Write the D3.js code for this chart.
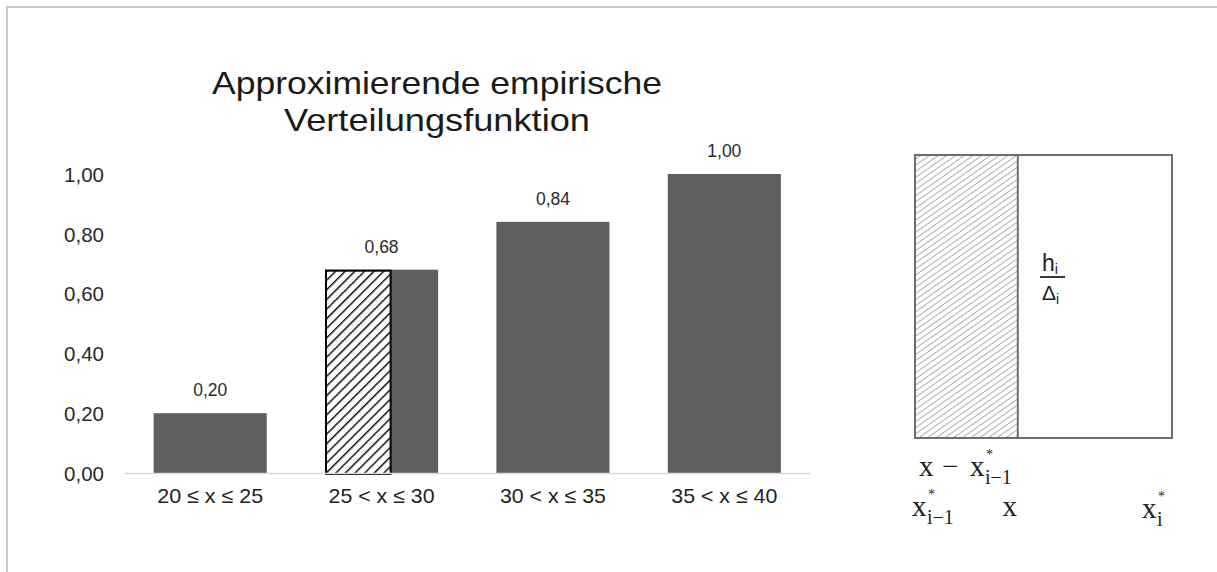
<!DOCTYPE html>
<html><head><meta charset="utf-8">
<script src="https://cdn.jsdelivr.net/npm/d3@7/dist/d3.min.js"></script>
<style>html,body{margin:0;padding:0;background:#fff;}svg{display:block;}</style>
</head><body>
<svg id="c" width="1217" height="572"></svg>
<script>
const categories = ["20 ≤ x ≤ 25", "25 < x ≤ 30", "30 < x ≤ 35", "35 < x ≤ 40"];
const values = [0.20, 0.68, 0.84, 1.00];
const valueLabels = ["0,20", "0,68", "0,84", "1,00"];
const yTicks = [0, 0.2, 0.4, 0.6, 0.8, 1.0];
const yTickLabels = ["0,00", "0,20", "0,40", "0,60", "0,80", "1,00"];
const titleLines = ["Approximierende empirische", "Verteilungsfunktion"];
// hatched share of the second class: x = 27.9 within 25..30
const hatchClass = 1;
const hatchInterval = [25, 30];
const hatchX = 27.9;
// schematic on the right: class [x*_{i-1}, x*_i] with x inside
const diagInterval = [0, 1];
const diagX = 0.4;

const svg = d3.select("#c");
const FONT = "'Liberation Sans', Arial, sans-serif";
const SERIF = "'Liberation Serif', 'DejaVu Serif', serif";

// outer frame
svg.append("path").attr("d", "M7,580 L7,7 L1230,7")
  .attr("fill", "none").attr("stroke", "#c8c8c8").attr("stroke-width", 2);

const defs = svg.append("defs");
const p1 = defs.append("pattern").attr("id", "hatchBold").attr("patternUnits", "userSpaceOnUse")
  .attr("width", 6.8).attr("height", 6.8).attr("patternTransform", "rotate(45)");
p1.append("rect").attr("width", 6.8).attr("height", 6.8).attr("fill", "#fff");
p1.append("line").attr("x1", 0).attr("y1", 0).attr("x2", 0).attr("y2", 6.8)
  .attr("stroke", "#000").attr("stroke-width", 2.8);
const p2 = defs.append("pattern").attr("id", "hatchThin").attr("patternUnits", "userSpaceOnUse")
  .attr("width", 5).attr("height", 5).attr("patternTransform", "rotate(55)");
p2.append("rect").attr("width", 5).attr("height", 5).attr("fill", "#fff");
p2.append("line").attr("x1", 0).attr("y1", 0).attr("x2", 0).attr("y2", 5)
  .attr("stroke", "#6a6a6a").attr("stroke-width", 1.1);

// scales
const x = d3.scaleBand().domain(categories).range([124.5, 810]).paddingInner(0.34).paddingOuter(0.17);
const y = d3.scaleLinear().domain([0, 1]).range([473, 174]);

// title
const titleG = svg.append("g").attr("font-family", FONT).attr("fill", "#1a1a1a");
titleG.selectAll("text").data(titleLines).join("text")
  .attr("x", 437).attr("y", (d, i) => 94 + i * 37)
  .attr("text-anchor", "middle").attr("font-size", 30.5)
  .attr("textLength", (d, i) => i === 0 ? 450 : 306).attr("lengthAdjust", "spacingAndGlyphs")
  .text(d => d);

// y axis labels
const yAxis = d3.axisLeft(y).tickValues(yTicks).tickFormat((d, i) => yTickLabels[i]).tickSize(0).tickPadding(0);
const ya = svg.append("g").attr("transform", "translate(104,0)").call(yAxis);
ya.select(".domain").remove();
ya.selectAll("text").attr("font-family", FONT).attr("font-size", 20.5).attr("fill", "#2a2a2a").attr("dy", "0.36em");

// bars
svg.append("g").selectAll("rect").data(values).join("rect")
  .attr("x", (d, i) => x(categories[i])).attr("width", x.bandwidth())
  .attr("y", d => y(d)).attr("height", d => y(0) - y(d)).attr("fill", "#5f5f5f");

// hatched part
const hs = d3.scaleLinear().domain(hatchInterval).range([x(categories[hatchClass]), x(categories[hatchClass]) + x.bandwidth()]);
svg.append("rect").attr("x", hs(hatchInterval[0]) + 1).attr("y", y(values[hatchClass]) + 1)
  .attr("width", hs(hatchX) - hs(hatchInterval[0]) - 1).attr("height", y(0) - y(values[hatchClass]))
  .attr("fill", "url(#hatchBold)").attr("stroke", "#000").attr("stroke-width", 2);

// x axis
const xAxis = d3.axisBottom(x).tickSize(0).tickPadding(15);
const xa = svg.append("g").attr("transform", `translate(0,${y(0)})`).call(xAxis);
xa.select(".domain").attr("stroke", "#d9d9d9").attr("stroke-width", 1.3);
xa.selectAll("text").attr("font-family", FONT).attr("font-size", 21).attr("fill", "#222")
  .attr("textLength", 106).attr("lengthAdjust", "spacingAndGlyphs");

// value labels
svg.append("g").selectAll("text").data(values).join("text")
  .attr("x", (d, i) => x(categories[i]) + x.bandwidth() / 2).attr("y", d => y(d) - 17)
  .attr("text-anchor", "middle").attr("font-family", FONT).attr("font-size", 17.5).attr("fill", "#2a2a2a")
  .text((d, i) => valueLabels[i]);

// schematic
const dx = d3.scaleLinear().domain(diagInterval).range([915, 1172]);
const dTop = 155, dBot = 438;
svg.append("rect").attr("x", dx(diagInterval[0])).attr("y", dTop)
  .attr("width", dx(diagX) - dx(diagInterval[0])).attr("height", dBot - dTop).attr("fill", "url(#hatchThin)");
svg.append("rect").attr("x", dx(diagInterval[0])).attr("y", dTop)
  .attr("width", dx(diagInterval[1]) - dx(diagInterval[0])).attr("height", dBot - dTop)
  .attr("fill", "none").attr("stroke", "#6e6e6e").attr("stroke-width", 2);
svg.append("line").attr("x1", dx(diagX)).attr("x2", dx(diagX)).attr("y1", dTop).attr("y2", dBot)
  .attr("stroke", "#6e6e6e").attr("stroke-width", 2);

// h_i / Δ_i
const frac = svg.append("g").attr("font-family", FONT).attr("fill", "#222");
const hT = frac.append("text").attr("x", 1042).attr("y", 271).attr("font-size", 23);
hT.append("tspan").text("h");
hT.append("tspan").attr("font-size", 14).attr("dy", 3).text("i");
frac.append("line").attr("x1", 1040).attr("x2", 1065).attr("y1", 277).attr("y2", 277)
  .attr("stroke", "#222").attr("stroke-width", 1.8);
const dT = frac.append("text").attr("x", 1042).attr("y", 300).attr("font-size", 21);
dT.append("tspan").text("Δ");
dT.append("tspan").attr("font-size", 14).attr("dy", 4).text("i");

// serif labels
function xstar(g, xpos, ypos, sub) {
  g.append("text").attr("x", xpos).attr("y", ypos).attr("font-family", SERIF).attr("font-size", 29).attr("fill", "#222").text("x");
  const sx = xpos + 15;
  g.append("text").attr("x", sx + 1).attr("y", ypos - 17).attr("font-family", SERIF).attr("font-size", 14).attr("fill", "#222").text("*");
  g.append("text").attr("x", sx).attr("y", ypos + 8).attr("font-family", SERIF).attr("font-size", 20).attr("fill", "#222").text(sub);
}
const lab = svg.append("g");
lab.append("text").attr("x", 919).attr("y", 476).attr("font-family", SERIF).attr("font-size", 29).attr("fill", "#222").text("x");
lab.append("text").attr("x", 942).attr("y", 476).attr("font-family", SERIF).attr("font-size", 29).attr("fill", "#222").text("−");
xstar(lab, 970, 476, "i−1");
xstar(lab, 912, 516, "i−1");
lab.append("text").attr("x", dx(diagX) - 8).attr("y", 516).attr("text-anchor", "middle")
  .attr("font-family", SERIF).attr("font-size", 29).attr("fill", "#222").text("x");
xstar(lab, 1142, 518, "i");
</script>
</body></html>
